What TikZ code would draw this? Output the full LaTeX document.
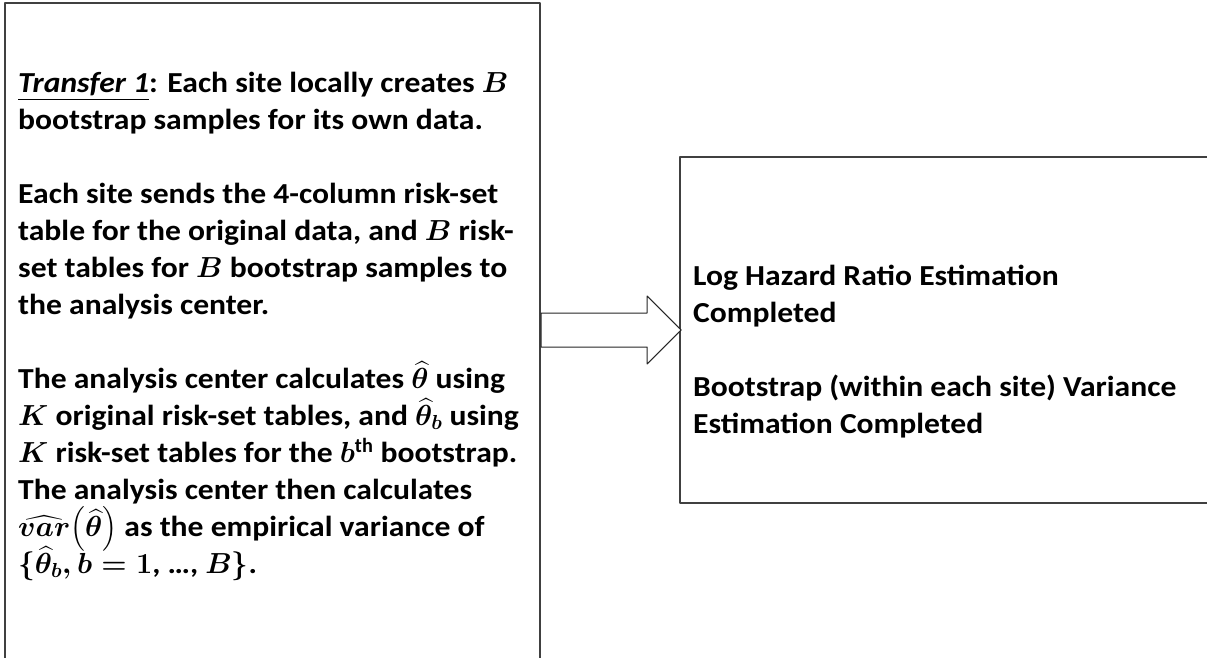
\RequirePackage{fix-cm}
\documentclass[tikz,border=0pt]{standalone}
\usepackage{amsmath}
\usepackage{fontspec}
\setmainfont{Carlito}
\newfontfamily\boxfamily{Carlito}[FakeStretch=1.09]
\newcommand\boxfont{\boxfamily\fontsize{29}{37}\selectfont\bfseries\boldmath\lineskiplimit=-30pt\relax}
\usetikzlibrary{shapes.arrows}

\begin{document}
\begin{tikzpicture}[x=1pt,y=1pt, line join=round,
    box/.style={draw=black!75,line width=1.3pt,rectangle,inner sep=0pt},
    txt/.style={anchor=north west,inner sep=0pt,align=left,font=\boxfont},
    blockarrow/.style={single arrow,draw=black!85,fill=white,line width=1pt,
      inner xsep=0pt,inner ysep=16.5pt,minimum height=140pt,single arrow head extend=17pt}]
  \useasboundingbox (0,0) rectangle (1207,657);
  \clip (0,0) rectangle (1207,657);
  % the two boxes run off the page
  \node[box,minimum width=535pt,minimum height=700pt] (lbox) at (272.5,304) {};
  \node[box,minimum width=560pt,minimum height=346pt] (rbox) at (960,327) {};
  \node[blockarrow,anchor=tail] (arr) at (lbox.east |- rbox.west) {};
  \node[txt] (ltext) at (18,585) {\underline{\textit{Transfer 1}}: Each site locally creates $B$\\
    bootstrap samples for its own data.\\[37pt]
    Each site sends the 4-column risk-set\\
    table for the original data, and $B$ risk-\\
    set tables for $B$ bootstrap samples to\\
    the analysis center.\\[37pt]
    The analysis center calculates $\widehat{\theta}$ using\\
    $K$ original risk-set tables, and $\widehat{\theta}_b$ using\\
    $K$ risk-set tables for the $b^{\mathrm{th}}$ bootstrap.\\
    The analysis center then calculates\\
    $\widehat{var}\bigl(\widehat{\theta}\bigr)$ as the empirical variance of\\
    $\{\widehat{\theta}_b, b = 1$, …, $B\}$.};
  \node[txt] (rtext) at (693,392) {Log Hazard Ratio Estimation\\
    Completed\\[37pt]
    Bootstrap (within each site) Variance\\
    Estimation Completed};
\end{tikzpicture}
\end{document}
